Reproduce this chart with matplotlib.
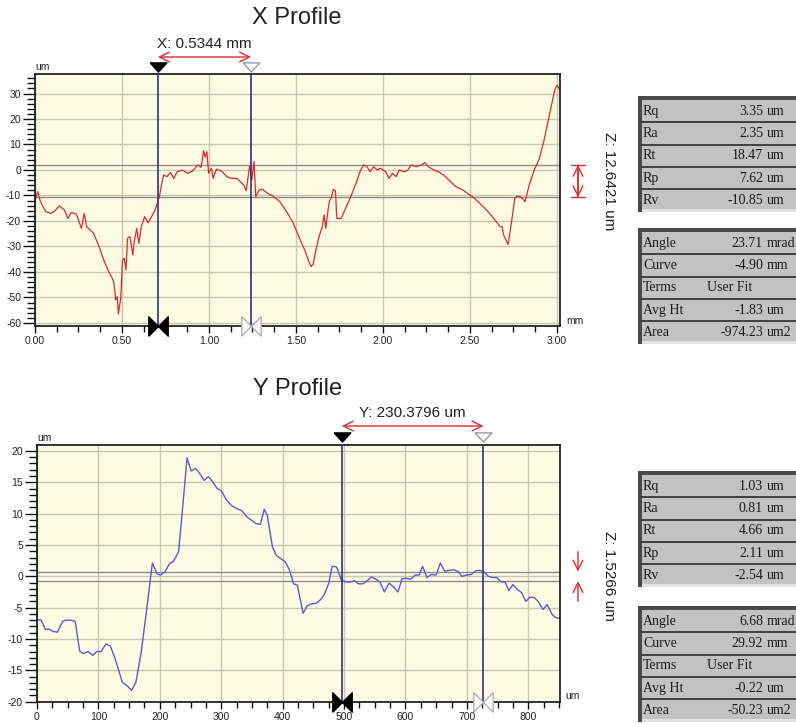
import matplotlib
matplotlib.use('Agg')
import matplotlib.pyplot as plt
import matplotlib.transforms as mtransforms
from matplotlib.ticker import MultipleLocator, FormatStrFormatter
from matplotlib.patches import Rectangle

plt.rcParams['font.family'] = ['Liberation Sans', 'DejaVu Sans']
plt.rcParams['axes.unicode_minus'] = False

# --- X profile (mm / um) ---
xp_x = [0.00, 0.016, 0.031, 0.061, 0.090, 0.110, 0.139, 0.169, 0.189, 0.208,
        0.238, 0.267, 0.283, 0.297, 0.316, 0.336, 0.365, 0.395, 0.424, 0.444,
        0.454, 0.464, 0.473, 0.479, 0.493, 0.503, 0.513, 0.523, 0.532, 0.546,
        0.562, 0.572, 0.585, 0.597, 0.611, 0.631, 0.650, 0.670, 0.690, 0.703,
        0.715, 0.729, 0.739, 0.758, 0.778, 0.798, 0.817, 0.847, 0.876, 0.906,
        0.935, 0.955, 0.969, 0.978, 0.988, 0.998, 1.014, 1.024, 1.043, 1.073,
        1.102, 1.132, 1.161, 1.181, 1.200, 1.214, 1.224, 1.234, 1.246, 1.259,
        1.269, 1.289, 1.308, 1.338, 1.367, 1.407, 1.446, 1.485, 1.525, 1.554,
        1.574, 1.587, 1.599, 1.613, 1.633, 1.652, 1.662, 1.672, 1.682, 1.692,
        1.705, 1.715, 1.727, 1.735, 1.760, 1.790, 1.819, 1.849, 1.868, 1.888,
        1.908, 1.927, 1.947, 1.967, 1.986, 2.016, 2.035, 2.055, 2.075, 2.094,
        2.124, 2.143, 2.163, 2.193, 2.222, 2.242, 2.261, 2.291, 2.320, 2.350,
        2.379, 2.418, 2.458, 2.487, 2.526, 2.566, 2.605, 2.644, 2.674, 2.684,
        2.694, 2.719, 2.733, 2.758, 2.772, 2.792, 2.817, 2.841, 2.870, 2.900,
        2.929, 2.959, 2.988, 3.000, 3.012]
xp_z = [-11.8, -8.5, -12.4, -16.3, -17.0, -16.3, -14.1, -15.7, -19.0, -16.7,
        -17.3, -22.9, -17.0, -22.2, -23.5, -24.8, -29.4, -35.3, -39.9, -42.5,
        -44.4, -51.0, -49.7, -56.5, -50.3, -35.3, -34.6, -39.2, -26.8, -26.1,
        -33.3, -27.5, -22.9, -28.8, -22.2, -18.3, -20.7, -18.3, -15.7, -13.1,
        -10.5, -5.2, -2.0, -2.6, -1.0, -3.3, -0.7, 0.0, -1.3, -0.4,
        2.0, 1.0, 7.6, 5.0, 7.2, -1.3, 0.7, -3.3, 0.3, -0.4,
        -2.6, -3.3, -3.3, -4.6, -5.9, -8.1, -3.3, 1.7, -3.9, 3.3,
        -10.5, -7.8, -7.6, -9.2, -10.2, -12.4, -16.3, -20.9, -27.5, -32.0,
        -35.9, -37.9, -36.9, -32.0, -26.1, -22.2, -17.6, -22.9, -17.0, -12.4,
        -10.5, -7.6, -8.1, -19.0, -19.0, -14.4, -9.8, -4.6, -0.7, 2.0,
        1.3, -0.7, 1.3, 0.0, 0.7, -0.7, -3.3, -1.3, -2.6, 0.0,
        -0.7, 0.0, 2.0, 1.3, 2.0, 2.9, 1.3, 0.0, -0.7, -2.0,
        -3.9, -6.5, -7.8, -9.2, -11.1, -13.7, -16.3, -19.6, -22.2, -22.2,
        -25.5, -29.2, -23.5, -11.1, -10.2, -10.5, -12.4, -5.9, 0.0, 4.6,
        12.4, 22.2, 31.4, 33.3, 32.0]
x_cursors = [0.707, 1.2414]
x_refs = [1.95, -10.69]
x_cursor_label = 'X: 0.5344 mm'
x_z_label = 'Z: 12.6421 um'

# --- Y profile (um / um) ---
yp_x = [0, 6.7, 13.9, 19.4, 26.7, 33.3, 41.7, 47.2, 55.6, 62.2,
        69.4, 75.0, 83.3, 90.6, 97.2, 104.4, 112.2, 119.4, 127.8, 138.9,
        147.2, 153.9, 161.1, 169.4, 177.8, 187.8, 195.6, 201.1, 208.3, 215.6,
        222.2, 230.6, 244.4, 251.1, 258.3, 265.6, 272.2, 278.9, 286.1,
        293.3, 300.0, 308.3, 316.7, 325.0, 333.3, 341.7, 350.0, 356.7, 363.9,
        370.0, 375.0, 383.3, 390.0, 397.2, 404.4, 411.1, 417.8, 423.9, 433.3,
        440.0, 447.2, 454.4, 461.1, 467.8, 475.0, 480.6, 487.8, 495.6, 502.8,
        511.1, 516.7, 523.3, 530.6, 537.8, 544.4, 551.1, 558.3, 565.6, 573.3,
        580.6, 587.8, 594.4, 601.1, 608.3, 615.6, 622.2, 627.8, 635.0, 641.7,
        650.0, 656.7, 663.9, 671.1, 678.9, 686.1, 691.7, 700.0, 707.2, 713.9,
        721.1, 727.8, 735.0, 741.7, 748.9, 755.6, 762.2, 768.3, 775.0, 782.2,
        788.9, 796.1, 802.8, 810.0, 816.7, 823.9, 830.6, 838.9, 844.4, 851.1]
yp_z = [-6.9, -7.0, -8.5, -8.4, -8.8, -8.9, -7.2, -7.0, -7.0, -7.2,
        -11.9, -12.3, -12.0, -12.6, -12.0, -12.0, -10.8, -11.1, -13.3, -16.9,
        -17.5, -18.2, -16.9, -12.3, -5.9, 2.1, 0.4, 0.2, 0.7, 2.0,
        2.4, 3.9, 18.9, 16.8, 17.2, 16.3, 15.3, 15.9, 15.1,
        14.0, 13.7, 12.2, 11.3, 10.8, 10.5, 9.5, 8.9, 8.4, 8.3,
        10.7, 9.7, 4.7, 3.3, 2.8, 2.3, 1.0, -1.2, -1.4, -5.9,
        -4.7, -4.4, -4.3, -3.8, -2.9, -1.1, 1.6, 1.5, -0.6, -0.9,
        -0.9, -0.7, -1.2, -1.2, -0.7, -0.1, -0.4, -0.9, -2.5, -1.1,
        -1.7, -2.5, -0.4, -0.3, -0.5, 0.2, 0.2, 1.6, -0.2, 0.3,
        0.2, 2.1, 0.8, 0.95, 1.06, 0.7, 0.0, 0.2, 0.3, 0.85,
        0.95, 0.7, 0.0, -0.2, -0.2, -0.9, -0.9, -2.3, -1.3, -2.1,
        -2.6, -4.0, -3.3, -3.4, -4.1, -5.3, -4.5, -6.1, -6.6, -6.7]
y_cursors = [496.5, 726.9]
y_refs = [0.76, -0.77]
y_cursor_label = 'Y: 230.3796 um'
y_z_label = 'Z: 1.5266 um'

# --- stat tables ---
rough_names = ['Rq', 'Ra', 'Rt', 'Rp', 'Rv']
rough_units = ['um', 'um', 'um', 'um', 'um']
x_rough_vals = ['3.35', '2.35', '18.47', '7.62', '-10.85']
y_rough_vals = ['1.03', '0.81', '4.66', '2.11', '-2.54']
fit_names = ['Angle', 'Curve', 'Terms', 'Avg Ht', 'Area']
fit_units = ['mrad', 'mm', '', 'um', 'um2']
x_fit_vals = ['23.71', '-4.90', 'User Fit', '-1.83', '-974.23']
y_fit_vals = ['6.68', '29.92', 'User Fit', '-0.22', '-50.23']

W, H = 796, 724
fig = plt.figure(figsize=(W / 100, H / 100), dpi=100)

BG = '#fdfbe2'
GRID = '#c9c7b3'
REF = '#8c8c8c'
CUR = '#2f2f85'
RED = '#e2282a'
TXT = '#222222'


def px_axes(l, t, r, b):
    return fig.add_axes([l / W, 1 - b / H, (r - l) / W, (b - t) / H])


def setup(ax, xlim, ylim, xmaj, xmin, ymaj, ymin, xfmt):
    ax.set_facecolor(BG)
    ax.set_xlim(*xlim)
    ax.set_ylim(*ylim)
    ax.xaxis.set_major_locator(MultipleLocator(xmaj))
    ax.xaxis.set_minor_locator(MultipleLocator(xmin))
    ax.yaxis.set_major_locator(MultipleLocator(ymaj))
    ax.yaxis.set_minor_locator(MultipleLocator(ymin))
    ax.xaxis.set_major_formatter(FormatStrFormatter(xfmt))
    ax.yaxis.set_major_formatter(FormatStrFormatter('%d'))
    ax.grid(True, which='major', color=GRID, lw=1)
    ax.set_axisbelow(True)
    ax.tick_params(axis='y', which='major', length=9, width=1, pad=1,
                   labelsize=7.5, color='#111', labelcolor=TXT)
    ax.tick_params(axis='y', which='minor', length=5.5, width=1, color='#111')
    ax.tick_params(axis='x', which='major', length=5, width=1, pad=2,
                   labelsize=7.5, color='#111', labelcolor=TXT)
    ax.tick_params(axis='x', which='minor', length=4, width=1, color='#111')
    for s in ax.spines.values():
        s.set_linewidth(1.2)
        s.set_color('#111')


def cursors(ax, cx, label, dy_lab, dy_arrow, dy_tri):
    trans = mtransforms.blended_transform_factory(ax.transData, ax.transAxes)
    for c in cx:
        ax.axvline(c, color=CUR, lw=1.2, zorder=3)
    tri = [(-1, 0.55), (1, 0.55), (0, -0.55), (-1, 0.55)]
    bow = [(-1, -1), (1, 1), (1, -1), (-1, 1), (-1, -1)]
    ax.plot(cx[0], 1 + dy_tri, marker=tri, ms=12, mfc='black', mec='black',
            mew=1, transform=trans, clip_on=False, zorder=5)
    ax.plot(cx[1], 1 + dy_tri, marker=tri, ms=12, mfc='white', mec='#9a9a9a',
            mew=1, transform=trans, clip_on=False, zorder=5)
    ax.plot(cx[0], 0, marker=bow, ms=14, mfc='black', mec='black',
            mew=1, transform=trans, clip_on=False, zorder=5)
    ax.plot(cx[1], 0, marker=bow, ms=14, mfc='white', mec='#b0b0b0',
            mew=1, transform=trans, clip_on=False, zorder=5)
    ax.annotate('', xy=(cx[0], 1 + dy_arrow), xytext=(cx[1], 1 + dy_arrow),
                xycoords=trans, textcoords=trans,
                arrowprops=dict(arrowstyle='<->,head_length=0.7,head_width=0.35',
                                color=RED, lw=1, shrinkA=0, shrinkB=0))
    ax.text((cx[0] + cx[1]) / 2, 1 + dy_lab, label, transform=trans,
            ha='center', va='center', fontsize=11, color=TXT)


# ---------- X profile ----------
ax1 = px_axes(35, 74, 560, 326)
setup(ax1, (0, 3.018), (-61.2, 37.65), 0.5, 0.125, 10, 2, '%.2f')
for r in x_refs:
    ax1.axhline(r, color=REF, lw=1, zorder=1.5)
ax1.plot(xp_x, xp_z, color=RED, lw=0.9, zorder=2)
cursors(ax1, x_cursors, x_cursor_label, 30 / 252, 17 / 252, 7.5 / 252)
ax1.text(0, 1 + 2 / 252, 'um', transform=ax1.transAxes, ha='left', va='bottom',
         fontsize=7.5, color=TXT)
ax1.text(1 + 6 / 525, 5.5 / 252, 'mm', transform=ax1.transAxes, ha='left',
         va='center', fontsize=7.5, color=TXT)
tz1 = mtransforms.blended_transform_factory(ax1.transAxes, ax1.transData)
zx1 = 1 + 18 / 525
ax1.annotate('', xy=(zx1, x_refs[0]), xytext=(zx1, x_refs[1]), xycoords=tz1,
             textcoords=tz1, annotation_clip=False,
             arrowprops=dict(arrowstyle='<->,head_length=0.7,head_width=0.35',
                             color=RED, lw=1, shrinkA=0, shrinkB=0))
ax1.annotate('', xy=(zx1, x_refs[0]), xytext=(zx1, x_refs[1]), xycoords=tz1,
             textcoords=tz1, annotation_clip=False,
             arrowprops=dict(arrowstyle='|-|,widthA=0.5,widthB=0.5',
                             color=RED, lw=1, shrinkA=0, shrinkB=0))

# ---------- Y profile ----------
ax2 = px_axes(37, 445, 560, 702)
setup(ax2, (0, 851.6), (-20.05, 20.95), 100, 25, 5, 1, '%d')
for r in y_refs:
    ax2.axhline(r, color=REF, lw=1, zorder=1.5)
ax2.plot(yp_x, yp_z, color='#5a5ad8', lw=1.0, zorder=2)
cursors(ax2, y_cursors, y_cursor_label, 32 / 257, 19 / 257, 8 / 257)
ax2.text(0, 1 + 2 / 257, 'um', transform=ax2.transAxes, ha='left', va='bottom',
         fontsize=7.5, color=TXT)
ax2.text(1 + 5 / 523, 6 / 257, 'um', transform=ax2.transAxes, ha='left',
         va='center', fontsize=7.5, color=TXT)
tz2 = mtransforms.blended_transform_factory(ax2.transAxes, ax2.transData)
zx2 = 1 + 18 / 523
ax2.annotate('', xy=(zx2, y_refs[0]), xytext=(zx2, y_refs[0] + 3.2), xycoords=tz2,
             textcoords=tz2, annotation_clip=False,
             arrowprops=dict(arrowstyle='->,head_length=0.7,head_width=0.35',
                             color=RED, lw=1, shrinkA=0, shrinkB=0))
ax2.annotate('', xy=(zx2, y_refs[1]), xytext=(zx2, y_refs[1] - 3.2), xycoords=tz2,
             textcoords=tz2, annotation_clip=False,
             arrowprops=dict(arrowstyle='->,head_length=0.7,head_width=0.35',
                             color=RED, lw=1, shrinkA=0, shrinkB=0))

# ---------- overlay in pixel coordinates: titles, Z labels, tables ----------
ov = fig.add_axes([0, 0, 1, 1])
ov.set_xlim(0, W)
ov.set_ylim(H, 0)
ov.axis('off')

ov.text(297, 18, 'X Profile', ha='center', va='center', fontsize=17, color=TXT)
ov.text(298, 389, 'Y Profile', ha='center', va='center', fontsize=17, color=TXT)
ov.text(609, 181, x_z_label, rotation=270, ha='center', va='center', fontsize=11, color=TXT)
ov.text(609, 576, y_z_label, rotation=270, ha='center', va='center', fontsize=11, color=TXT)

ROW_H = 22.3


def draw_table(top, names, vals, units):
    n = len(names)
    left, right = 638, 800
    bot = top + 4 + n * ROW_H
    ov.add_patch(Rectangle((left, top), right - left, bot - top, fc='#c2c2c2', ec='none'))
    ov.add_patch(Rectangle((left, bot - 3), right - left, 3, fc='#e2e2e2', ec='none'))
    ov.add_patch(Rectangle((left, top), right - left, 4, fc='#4a4a4a', ec='none'))
    ov.add_patch(Rectangle((left, top), 4, bot - top, fc='#4a4a4a', ec='none'))
    for i in range(n):
        yc = top + 4 + (i + 0.5) * ROW_H
        if i < n - 1:
            yl = top + 4 + (i + 1) * ROW_H
            ov.plot([left + 4, right], [yl, yl], color='#2a2a2a', lw=1.2)
        kw = dict(va='center', fontsize=10, color='#1a1a1a', family='Liberation Serif')
        ov.text(643, yc, names[i], ha='left', **kw)
        if units[i]:
            ov.text(763, yc, vals[i], ha='right', **kw)
            ov.text(767, yc, units[i], ha='left', **kw)
        else:
            ov.text(707, yc, vals[i], ha='left', **kw)


draw_table(96, rough_names, x_rough_vals, rough_units)
draw_table(228, fit_names, x_fit_vals, fit_units)
draw_table(471, rough_names, y_rough_vals, rough_units)
draw_table(606, fit_names, y_fit_vals, fit_units)

fig.savefig('out.png', dpi=100)
